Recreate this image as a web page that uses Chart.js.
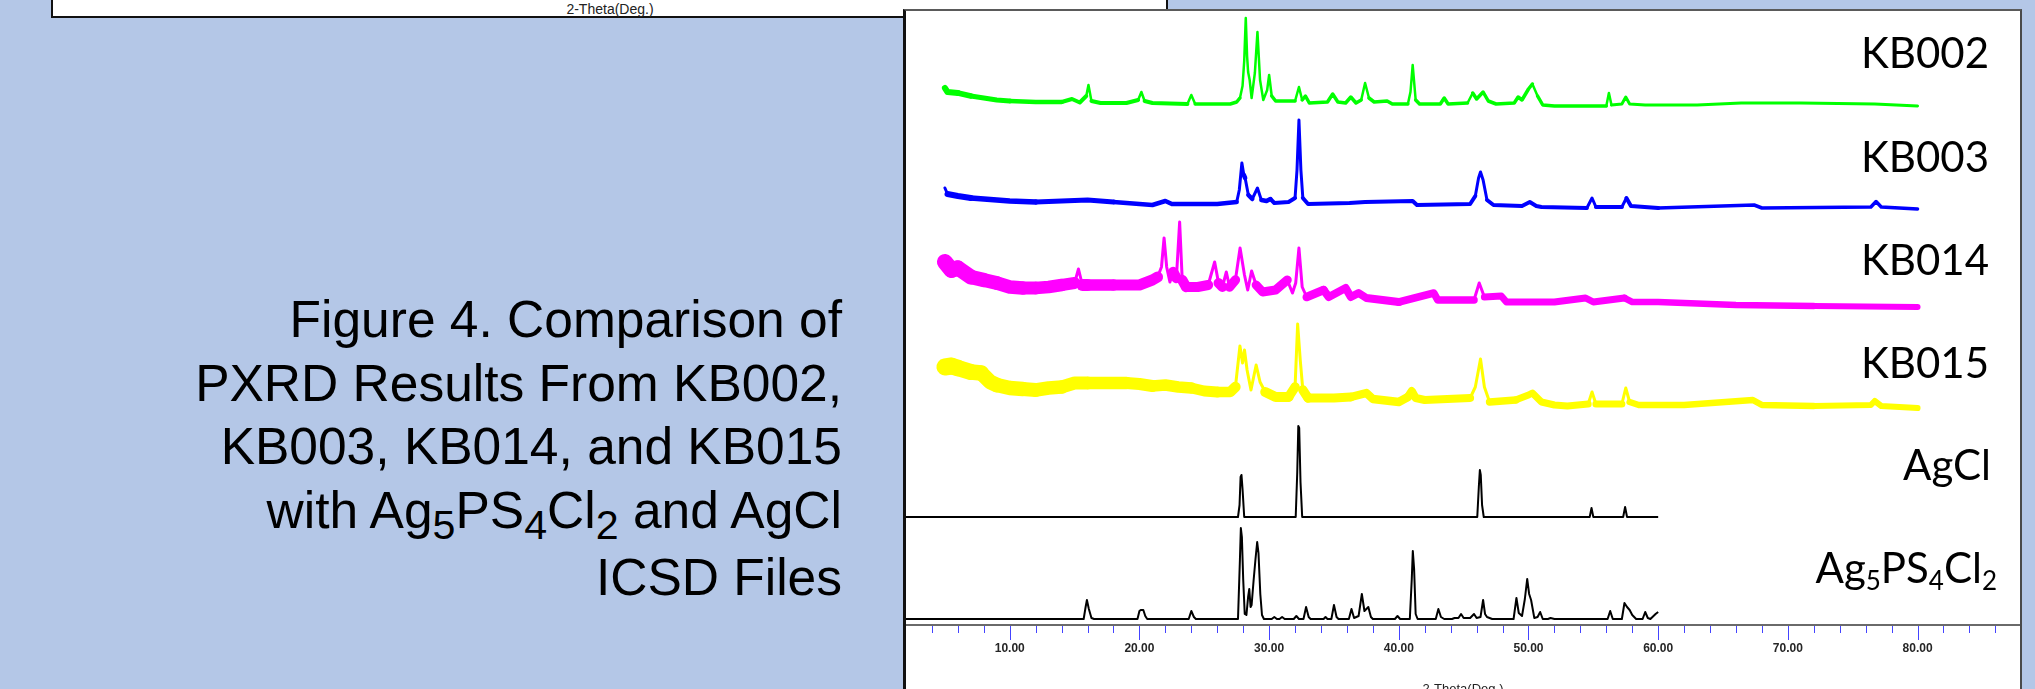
<!DOCTYPE html>
<html>
<head>
<meta charset="utf-8">
<script src="https://cdn.jsdelivr.net/npm/chart.js@4.4.1/dist/chart.umd.min.js"></script>
<style>
  html, body { margin: 0; padding: 0; width: 2035px; height: 689px; overflow: hidden; background: #B4C7E7; }
  #topbox { position: absolute; left: 51px; top: -4px; width: 1117px; height: 22px; box-sizing: border-box;
            background: #fff; border: 2px solid #111; }
  #toptitle { position: absolute; left: 560px; width: 100px; top: 1px; text-align: center;
              font: 14px "Liberation Sans", Arial, sans-serif; color: #222; white-space: nowrap; }
  #chartbox { position: absolute; left: 903px; top: 9px; width: 1119px; height: 700px; box-sizing: border-box;
              background: #fff; border-left: 3px solid #111; border-top: 2px solid #5a5a5a; border-right: 2px solid #4a4a4a; }
  #wrap { position: absolute; left: 906px; top: 11px; width: 1114px; height: 700px; }
  #caption { position: absolute; left: 0; width: 842px; top: 288px; text-align: right;
             font: 51.5px "Liberation Sans", Arial, sans-serif; line-height: 63.5px; color: #000; }
  #caption .s { font-size: 0.8em; position: relative; top: 11px; }
</style>
</head>
<body>
<div id="topbox"></div>
<div id="toptitle">2-Theta(Deg.)</div>
<div id="chartbox"></div>
<div id="caption">Figure 4. Comparison of<br>PXRD Results From KB002,<br>KB003, KB014, and KB015<br>with Ag<span class="s">5</span>PS<span class="s">4</span>Cl<span class="s">2</span> and AgCl<br>ICSD Files</div>
<div id="wrap"><canvas id="c" width="1114" height="700"></canvas></div>
<script>
// ---------- DATA (2-theta in degrees, intensity in arbitrary units above each pattern's baseline) ----------
const seriesNames = ['KB002', 'KB003', 'KB014', 'KB015', 'AgCl', 'Ag5PS4Cl2'];

const KB002 = [[5.0,18],[5.2,14],[6,13],[7,10],[8,8],[9,6],[10,5],[12,4],[14,4],[14.8,7],[15.4,3.5],[15.9,10],[16.07,21],[16.3,5],[17,3],[19,3],[19.9,6],[20.15,14],[20.4,5],[21,3],[23.7,2],[24.0,11],[24.3,2],[27.0,2],[27.5,4],[27.75,8],[27.95,20],[28.08,45],[28.2,88],[28.3,50],[28.38,34],[28.5,26],[28.65,8],[28.9,33],[29.1,74],[29.3,26],[29.55,6],[29.85,16],[30.0,31],[30.2,10],[30.5,5],[32.0,5],[32.3,19],[32.55,6],[32.8,10],[33.1,3],[34.5,4],[34.9,12],[35.3,4],[35.9,3],[36.3,9],[36.7,3],[37.1,6],[37.4,23],[37.7,8],[38.1,4],[39.1,5],[39.5,2],[40.7,2],[40.9,14],[41.07,41],[41.3,6],[41.6,2],[43.2,2],[43.5,8],[43.8,2],[45.3,3],[45.7,13],[46.0,7],[46.5,14],[46.9,5],[47.5,2],[48.9,3],[49.2,9],[49.5,6],[50.0,17],[50.3,22],[50.7,10],[51.1,1],[52,0],[56.0,0],[56.2,13],[56.4,1],[57.2,2],[57.5,9],[57.8,2],[59,1],[63,1],[66.4,3],[71,3],[76.7,2],[80,0]];

const KB003 = [[5.0,20],[5.2,14],[6,12],[7,10],[8,9],[10,7],[12,6],[14,7],[16,8],[18,6],[20,4],[21,3],[22.0,7],[22.5,4],[26,4],[27.5,6],[27.7,18],[27.9,45],[28.05,33],[28.15,30],[28.4,13],[28.7,9],[29.1,20],[29.4,8],[29.8,7],[30.1,9],[30.4,5],[31.5,6],[32.0,10],[32.15,38],[32.3,88],[32.45,38],[32.6,10],[33.0,4],[36.2,5],[37.4,6],[41.07,7],[41.4,3],[45.5,4],[45.9,12],[46.15,30],[46.3,36],[46.5,28],[46.8,8],[47.3,3],[49.5,2],[50.1,6],[50.6,2],[51,1],[54.5,0],[54.9,10],[55.2,1],[57.2,1],[57.55,10],[57.9,2],[60,0],[67.4,3],[68,0],[76.4,1],[76.8,6.5],[77.2,1],[80,-1]];

const KB014 = [[5.0,45],[5.5,37],[6,39],[7,30],[8,27],[9,24],[10,20],[11,19],[12,19],[13,20],[14,22],[15,24],[15.3,38],[15.6,22],[16,22],[18,22],[20,22],[20.6,25],[21.0,27],[21.4,30],[21.7,40],[21.9,69],[22.1,40],[22.35,25],[22.6,35],[22.85,29],[23.1,85],[23.3,27],[23.6,20],[24.5,20],[25.3,22],[25.8,45],[26.1,24],[26.4,20],[26.7,35],[26.95,20],[27.4,27],[27.76,59],[28.1,32],[28.35,17],[28.65,36],[29.0,22],[29.5,15],[30.5,17],[31.4,27],[31.8,14],[32.05,24],[32.3,59],[32.55,20],[32.9,10],[34.2,17],[34.6,10],[35.9,19],[36.3,10],[36.9,14],[37.5,9],[40,5],[42.7,14],[43.0,7],[45.8,7],[46.2,24],[46.6,10],[47.9,11],[48.3,5],[52,5],[54.4,9],[55,5],[57.4,9],[58,5],[60,5],[66,2],[72,1],[80,0]];

const KB015 = [[5.0,41],[5.5,42],[6,40],[7,36],[7.8,35],[8.5,26],[9,23],[10,20],[11,19],[12,18],[13,20],[14,21],[15,25],[16,25],[17,25],[18,25],[19,25],[20,24],[21,22],[22,23],[23,21],[24,20],[25,17],[26,16],[27,16],[27.4,21],[27.75,62],[27.95,45],[28.1,58],[28.3,38],[28.6,18],[29.0,43],[29.3,26],[29.7,16],[30.5,11],[31.5,11],[32.0,21],[32.2,84],[32.4,48],[32.6,18],[33.0,10],[35,10],[36.3,11],[37.5,15],[38,9],[40,6],[40.7,11],[41.0,17],[41.3,10],[42,8],[45.5,10],[45.9,21],[46.3,49],[46.6,21],[47.0,6],[49,8],[50.0,13],[50.3,15],[51,6],[52,3],[53,2],[54.6,4],[54.9,16],[55.2,4],[57.2,4],[57.5,20],[57.8,6],[58.5,3],[62,3],[67.3,8],[68,3],[72,2],[76.4,3],[76.7,7],[77.2,2],[80,0]];

const AgCl = [[2,0],[27.6,0],[27.72,12],[27.8,40],[27.87,42],[27.95,28],[28.08,0],[32.05,0],[32.17,45],[32.25,91],[32.32,89],[32.42,35],[32.55,0],[46.05,0],[46.17,30],[46.25,47],[46.32,42],[46.42,12],[46.55,0],[54.72,0],[54.86,9],[55.0,0],[57.3,0],[57.45,10],[57.6,0],[60,0]];

const Ag5PS4Cl2 = [[2,0],[15.7,0],[15.85,12],[15.95,19],[16.1,10],[16.3,1],[16.5,0],[19.85,0],[20.0,8],[20.1,9],[20.3,9],[20.45,3],[20.6,0],[23.8,0],[24.0,8],[24.2,2],[24.35,0],[27.6,0],[27.75,60],[27.82,91],[27.9,82],[28.0,40],[28.12,5],[28.25,4],[28.38,22],[28.47,30],[28.57,12],[28.65,14],[28.8,38],[28.95,60],[29.08,77],[29.18,66],[29.32,25],[29.45,4],[29.6,0],[30.2,0],[30.4,2],[30.6,0],[30.8,0],[31.0,2],[31.2,0],[31.9,0],[32.1,3],[32.3,0],[32.65,0],[32.85,12],[33.05,2],[33.2,0],[34.2,0],[34.35,2],[34.5,0],[34.8,0],[35.0,14],[35.2,2],[35.35,0],[36.15,0],[36.35,10],[36.55,1],[36.9,3],[37.15,25],[37.35,8],[37.5,10],[37.65,12],[37.85,2],[38.0,0],[39.7,0],[39.9,3],[40.1,0],[40.85,0],[41.0,40],[41.08,68],[41.18,50],[41.3,5],[41.45,0],[42.85,0],[43.05,10],[43.25,2],[43.5,0],[44.1,0],[44.3,1],[44.6,1],[44.8,5],[45.0,1],[45.5,1],[45.8,5],[46.0,1],[46.3,2],[46.5,19],[46.65,5],[46.8,2],[47.2,0],[48.85,0],[49.07,21],[49.25,6],[49.5,3],[49.72,20],[49.9,40],[50.05,25],[50.2,19],[50.45,1],[50.7,2],[50.9,7],[51.1,0],[51.5,0],[51.7,1],[52.0,0],[56.1,0],[56.3,8],[56.5,0],[57.2,0],[57.4,16],[57.6,12],[57.8,9],[58.0,4],[58.3,0],[58.8,0],[59.0,7],[59.2,1],[59.4,0],[59.8,5],[60.0,7]];

const xTickLabels = ['10.00','20.00','30.00','40.00','50.00','60.00','70.00','80.00'];
const xTitle = '2-Theta(Deg.)';

// ---------- LAYOUT / STYLE (kept separate from the data) ----------
const X_MIN = 2.0, X_MAX = 87.9;
const Y_MAX = 614;
const OFFSETS = { KB002: 519, KB003: 417, KB014: 318, KB015: 217, AgCl: 108, Ag5PS4Cl2: 6 };
const COLORS  = { KB002: '#00ff00', KB003: '#0000ff', KB014: '#ff00ff', KB015: '#ffff00', AgCl: '#000000', Ag5PS4Cl2: '#000000' };
const NOISE = {
  KB002: [[5,6],[8,5],[15,4],[30,3.5],[80,3]],
  KB003: [[5,6],[8,5.5],[20,4.5],[40,4],[80,3.5]],
  KB014: [[5,16],[8,14],[15,12],[25,10],[35,8],[50,7],[80,6]],
  KB015: [[5,17],[8,15],[15,13],[25,11],[35,9],[50,7],[80,6]],
  AgCl: [[0,2],[90,2]],
  Ag5PS4Cl2: [[0,2],[90,2]]
};
const THIN = { KB002: 2.5, KB003: 3, KB014: 3, KB015: 3, AgCl: 2, Ag5PS4Cl2: 2 };
const LABEL_POS = [
  { parts: [['KB002',0]], right: 1083, base: 57 },
  { parts: [['KB003',0]], right: 1083, base: 161 },
  { parts: [['KB014',0]], right: 1083, base: 264 },
  { parts: [['KB015',0]], right: 1083, base: 367 },
  { parts: [['AgCl',0]], right: 1085, base: 469 },
  { parts: [['Ag',0],['5',1],['PS',0],['4',1],['Cl',0],['2',1]], right: 1091, base: 572 }
];

const RAW = { KB002, KB003, KB014, KB015, AgCl, Ag5PS4Cl2 };

function widthAt(anchors, x) {
  if (x <= anchors[0][0]) return anchors[0][1];
  for (let i = 1; i < anchors.length; i++) {
    if (x <= anchors[i][0]) {
      const [x0, w0] = anchors[i-1], [x1, w1] = anchors[i];
      return w0 + (w1 - w0) * (x - x0) / (x1 - x0);
    }
  }
  return anchors[anchors.length-1][1];
}

const datasets = seriesNames.map(name => ({
  label: name,
  data: RAW[name].map(([x, v]) => ({ x, y: v + OFFSETS[name] })),
  borderColor: COLORS[name],
  borderWidth: THIN[name],
  pointRadius: 0,
  borderJoinStyle: 'round',
  borderCapStyle: name.startsWith('KB') ? 'round' : 'butt',
  tension: 0,
  segment: {
    borderWidth: ctx => {
      const dx = Math.abs(ctx.p1.x - ctx.p0.x), dy = Math.abs(ctx.p1.y - ctx.p0.y);
      if (dy > 1.5 * dx + 2) return THIN[name];
      const xm = (ctx.p0.parsed.x + ctx.p1.parsed.x) / 2;
      return Math.max(THIN[name], Math.round(widthAt(NOISE[name], xm) * 2) / 2);
    }
  }
}));

const tickPlugin = {
  id: 'pxrdTicks',
  afterDraw(chart) {
    const xs = chart.scales.x, c = chart.ctx;
    const y0 = chart.chartArea.bottom + 1;
    c.save();
    c.strokeStyle = '#4444ff';
    c.lineWidth = 1;
    for (let v = 4; v <= 86; v += 2) {
      const px = Math.round(xs.getPixelForValue(v)) + 0.5;
      const len = (v % 10 === 0) ? 14 : 7;
      c.beginPath(); c.moveTo(px, y0); c.lineTo(px, y0 + len); c.stroke();
    }
    c.restore();
  }
};

const labelPlugin = {
  id: 'seriesLabels',
  afterDraw(chart) {
    const c = chart.ctx;
    c.save();
    c.fillStyle = '#000';
    c.textBaseline = 'alphabetic';
    c.textAlign = 'left';
    const mainFont = '42px Lato, "Noto Sans", sans-serif';
    const subFont = '26px Lato, "Noto Sans", sans-serif';
    LABEL_POS.forEach(L => {
      let total = 0;
      L.parts.forEach(([t, s]) => { c.font = s ? subFont : mainFont; total += c.measureText(t).width; });
      let x = L.right - total;
      L.parts.forEach(([t, s]) => {
        c.font = s ? subFont : mainFont;
        c.fillText(t, x, L.base + (s ? 7 : 0));
        x += c.measureText(t).width;
      });
    });
    c.restore();
  }
};

new Chart(document.getElementById('c'), {
  type: 'line',
  data: { datasets },
  options: {
    responsive: false,
    animation: false,
    devicePixelRatio: 1,
    layout: { padding: 0, autoPadding: false },
    plugins: { legend: { display: false }, tooltip: { enabled: false } },
    scales: {
      x: {
        type: 'linear',
        min: X_MIN, max: X_MAX,
        grid: { display: true, drawOnChartArea: false, drawTicks: true, tickLength: 16, tickColor: 'rgba(0,0,0,0)' },
        border: { display: true, color: '#6a6a6a', width: 2 },
        ticks: {
          stepSize: 2, autoSkip: false, maxRotation: 0, minRotation: 0, padding: 0,
          color: '#262626',
          font: { family: '"Liberation Sans", Arial, sans-serif', size: 12, weight: 'bold' },
          callback: v => {
            const s = Number(v).toFixed(2);
            return xTickLabels.includes(s) ? s : '';
          }
        },
        title: {
          display: true, text: xTitle, color: '#222',
          font: { family: '"Liberation Sans", Arial, sans-serif', size: 13 },
          padding: { top: 0, bottom: 14 }
        },
        afterFit: s => { s.height = 86; }
      },
      y: { type: 'linear', display: false, min: 0, max: Y_MAX }
    }
  },
  plugins: [tickPlugin, labelPlugin]
});
</script>
</body>
</html>
